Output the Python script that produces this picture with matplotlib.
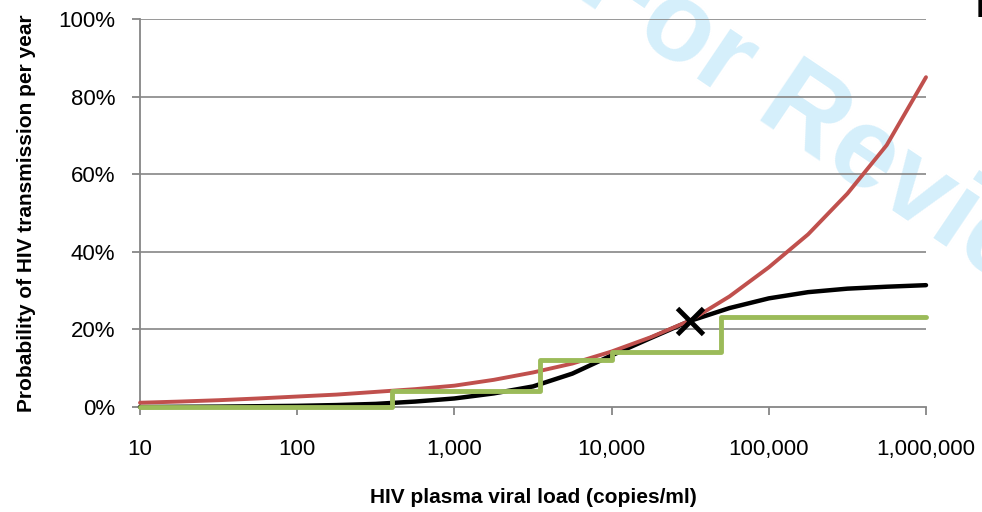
import numpy as np
import matplotlib
matplotlib.use("Agg")
import matplotlib.pyplot as plt

plt.rcParams['font.family'] = ['Liberation Sans', 'DejaVu Sans']

# viral load grid (copies/ml), quarter decades
viral_load = [10, 17.8, 31.6, 56.2, 100, 178, 316, 562, 1000, 1778, 3162, 5623,
              10000, 17783, 31623, 56234, 100000, 177828, 316228, 562341, 1000000]

# probability per year (%)
black_curve = [0.0, 0.05, 0.1, 0.2, 0.3, 0.5, 0.8, 1.4, 2.2, 3.5, 5.3, 8.6,
               13.3, 17.8, 22.2, 25.5, 28.0, 29.6, 30.5, 31.0, 31.4]
red_curve = [1.1, 1.4, 1.75, 2.2, 2.7, 3.2, 3.9, 4.6, 5.5, 7.0, 8.9, 11.2,
             14.3, 18.0, 22.3, 28.5, 36.0, 44.5, 55.0, 67.5, 85.0]

# step function
step_x = [10, 400, 3500, 10000, 50000, 1000000]
step_y = [0.0, 4.2, 12.1, 14.1, 23.1, 23.1]

marker_x = [31623]
marker_y = [22.2]

xticks = [10, 100, 1000, 10000, 100000, 1000000]
xtick_labels = ['10', '100', '1,000', '10,000', '100,000', '1,000,000']
yticks = [0, 20, 40, 60, 80, 100]
ytick_labels = ['0%', '20%', '40%', '60%', '80%', '100%']

grey = '#868686'

fig = plt.figure(figsize=(9.82, 5.12), dpi=100)
ax = fig.add_axes([140/982, 1-407/512, (926-140)/982, (407-19)/512])
ax.set_facecolor('none')

# watermark, behind everything
fig.text(575/982, 1-(-4)/512, 'For Review', color='#d5effb', fontsize=82,
         fontweight='bold', rotation=-34, rotation_mode='anchor',
         ha='left', va='baseline', zorder=-5)
# panel letter cut off at the right edge
fig.text(976/982, 1-17/512, 'B', color='black', fontsize=26,
         fontweight='bold', ha='left', va='baseline')

ax.set_xscale('log')
ax.set_xlim(10, 1e6)
ax.set_ylim(0, 100)

for yv in yticks[1:]:
    ax.axhline(yv, color=grey, lw=1.2, zorder=1)

ax.plot(viral_load, black_curve, color='black', lw=3.2, zorder=3,
        solid_capstyle='round', clip_on=False)
ax.plot(viral_load, red_curve, color='#c0504d', lw=2.8, zorder=4,
        solid_capstyle='round', clip_on=False)
ax.plot(step_x, step_y, color='#9bbb59', lw=3.5, drawstyle='steps-post',
        zorder=5, solid_capstyle='round', clip_on=False)
ax.plot(marker_x, marker_y, marker='x', color='black', ms=19, mew=3.5,
        ls='none', zorder=6, clip_on=False)

for s in ['top', 'right']:
    ax.spines[s].set_visible(False)
for s in ['left', 'bottom']:
    ax.spines[s].set_color(grey)
    ax.spines[s].set_linewidth(1.3)

ax.set_xticks(xticks)
ax.set_xticklabels(xtick_labels)
ax.minorticks_off()
ax.set_yticks(yticks)
ax.set_yticklabels(ytick_labels)
ax.tick_params(axis='x', length=6, width=1.3, color=grey, pad=17,
               labelsize=16, labelcolor='black')
ax.tick_params(axis='y', length=6, width=1.3, color=grey, pad=12,
               labelsize=16, labelcolor='black')

ax.set_xlabel('HIV plasma viral load (copies/ml)', fontsize=15,
              fontweight='bold', labelpad=20)
ax.set_ylabel('Probability of HIV transmission per year', fontsize=15,
              fontweight='bold', labelpad=16)

fig.savefig('out.png', dpi=100)
